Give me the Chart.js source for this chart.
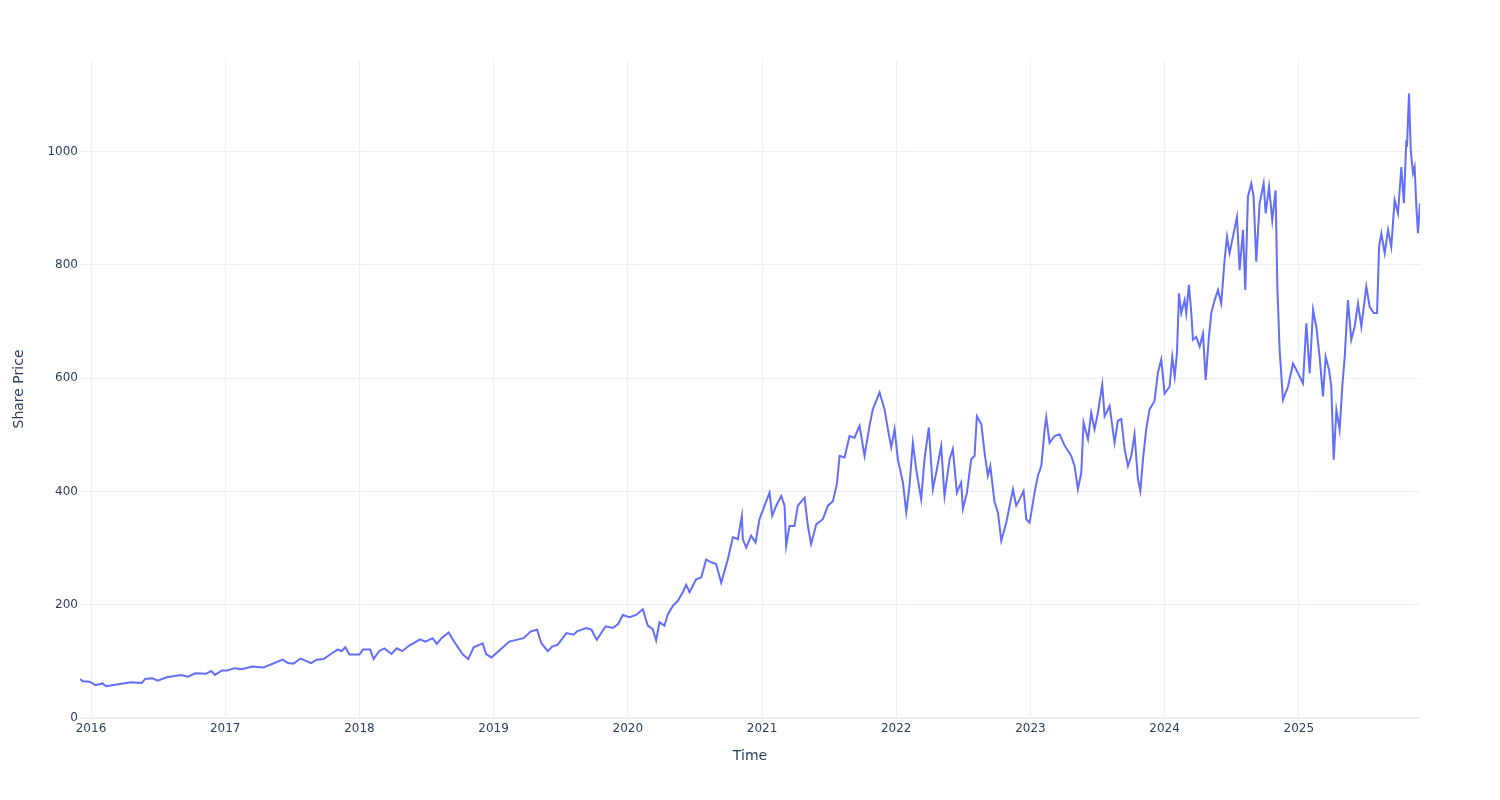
<!DOCTYPE html>
<html>
<head>
<meta charset="utf-8">
<script src="https://cdn.jsdelivr.net/npm/chart.js@4"></script>
<style>
  html, body { margin: 0; padding: 0; background: #fff; }
  #chart { display: block; }
</style>
</head>
<body>
<canvas id="chart" width="1500" height="800"></canvas>
<script>
// 時間（小数年）と株価
const years = [
  2015.918, 2015.939, 2015.992, 2016.032, 2016.085, 2016.112, 2016.191, 2016.298, 2016.378, 2016.404,
  2016.457, 2016.497, 2016.564, 2016.670, 2016.723, 2016.777, 2016.856, 2016.896, 2016.923, 2016.976,
  2017.016, 2017.069, 2017.122, 2017.202, 2017.282, 2017.335, 2017.428, 2017.468, 2017.508, 2017.561,
  2017.641, 2017.681, 2017.734, 2017.787, 2017.840, 2017.867, 2017.894, 2017.926, 2018.000, 2018.027,
  2018.080, 2018.106, 2018.146, 2018.186, 2018.239, 2018.279, 2018.319, 2018.372, 2018.452, 2018.492,
  2018.545, 2018.577, 2018.612, 2018.665, 2018.705, 2018.771, 2018.811, 2018.851, 2018.918, 2018.944,
  2018.984, 2019.051, 2019.117, 2019.170, 2019.223, 2019.277, 2019.324, 2019.356, 2019.404, 2019.436,
  2019.476, 2019.543, 2019.596, 2019.622, 2019.689, 2019.729, 2019.769, 2019.835, 2019.888, 2019.928,
  2019.963, 2020.012, 2020.062, 2020.112, 2020.149, 2020.186, 2020.211, 2020.236, 2020.273, 2020.298,
  2020.335, 2020.373, 2020.410, 2020.435, 2020.460, 2020.509, 2020.547, 2020.584, 2020.621, 2020.658,
  2020.696, 2020.745, 2020.783, 2020.820, 2020.850, 2020.857, 2020.882, 2020.919, 2020.952, 2020.981,
  2021.019, 2021.056, 2021.076, 2021.106, 2021.143, 2021.168, 2021.180, 2021.205, 2021.242, 2021.267,
  2021.317, 2021.342, 2021.366, 2021.404, 2021.453, 2021.491, 2021.528, 2021.558, 2021.578, 2021.615,
  2021.652, 2021.689, 2021.727, 2021.764, 2021.801, 2021.826, 2021.876, 2021.913, 2021.938, 2021.963,
  2021.988, 2022.012, 2022.050, 2022.075, 2022.099, 2022.124, 2022.149, 2022.186, 2022.211, 2022.243,
  2022.273, 2022.298, 2022.335, 2022.360, 2022.398, 2022.422, 2022.452, 2022.484, 2022.497, 2022.527,
  2022.559, 2022.584, 2022.601, 2022.634, 2022.658, 2022.683, 2022.701, 2022.733, 2022.758, 2022.783,
  2022.820, 2022.870, 2022.894, 2022.919, 2022.949, 2022.969, 2022.994, 2023.031, 2023.056, 2023.081,
  2023.106, 2023.118, 2023.143, 2023.180, 2023.217, 2023.255, 2023.304, 2023.329, 2023.354, 2023.379,
  2023.396, 2023.429, 2023.453, 2023.478, 2023.503, 2023.535, 2023.553, 2023.590, 2023.627, 2023.652,
  2023.677, 2023.702, 2023.727, 2023.752, 2023.776, 2023.801, 2023.819, 2023.839, 2023.863, 2023.888,
  2023.925, 2023.950, 2023.975, 2024.000, 2024.037, 2024.057, 2024.075, 2024.092, 2024.107, 2024.124,
  2024.149, 2024.161, 2024.181, 2024.199, 2024.211, 2024.236, 2024.261, 2024.286, 2024.306, 2024.330,
  2024.348, 2024.373, 2024.398, 2024.422, 2024.447, 2024.465, 2024.484, 2024.509, 2024.539, 2024.559,
  2024.584, 2024.601, 2024.621, 2024.646, 2024.663, 2024.683, 2024.708, 2024.738, 2024.753, 2024.778,
  2024.802, 2024.827, 2024.840, 2024.857, 2024.882, 2024.919, 2024.957, 2024.994, 2025.031, 2025.056,
  2025.081, 2025.106, 2025.130, 2025.155, 2025.180, 2025.200, 2025.225, 2025.242, 2025.260, 2025.280,
  2025.304, 2025.324, 2025.342, 2025.366, 2025.391, 2025.416, 2025.441, 2025.466, 2025.503, 2025.528,
  2025.558, 2025.583, 2025.598, 2025.615, 2025.640, 2025.665, 2025.689, 2025.714, 2025.739, 2025.764,
  2025.783, 2025.801, 2025.806, 2025.821, 2025.834, 2025.851, 2025.863, 2025.876, 2025.888, 2025.903
];
const prices = [
  69, 65, 64, 58, 61, 56, 59, 63, 62, 69,
  70, 66, 72, 76, 73, 79, 78, 83, 76, 84,
  84, 88, 86, 91, 89, 94, 103, 97, 96, 105,
  97, 103, 104, 113, 121, 118, 125, 112, 112, 121,
  121, 104, 118, 123, 113, 123, 118, 128, 139, 135,
  141, 131, 141, 151, 135, 112, 104, 125, 132, 113,
  107, 121, 135, 138, 141, 153, 156, 132, 118, 126,
  129, 150, 147, 153, 159, 156, 138, 162, 159, 166,
  182, 178, 182, 192, 163, 157, 137, 169, 163, 183,
  198, 207, 222, 235, 222, 245, 248, 280, 275, 272,
  239, 280, 319, 316, 357, 316, 301, 322, 310, 351,
  375, 398, 357, 375, 392, 375, 304, 339, 339, 375,
  389, 339, 307, 342, 351, 375, 383, 413, 463, 460,
  498, 495, 516, 463, 516, 545, 575, 545, 510, 478,
  510, 457, 416, 363, 410, 486, 439, 386, 457, 513,
  404, 433, 480, 392, 457, 475, 398, 416, 369, 398,
  457, 463, 533, 519, 469, 428, 445, 381, 363, 313,
  345, 404, 375, 386, 401, 351, 345, 398, 428, 445,
  510, 531, 486, 498, 501, 481, 463, 445, 404, 433,
  522, 492, 539, 510, 539, 589, 533, 551, 486, 525,
  528, 475, 445, 463, 501, 422, 401, 457, 510, 545,
  560, 610, 633, 573, 585, 638, 603, 644, 750, 715,
  738, 715, 765, 715, 668, 673, 656, 679, 597, 673,
  715, 738, 756, 732, 809, 850, 821, 850, 885, 791,
  862, 756, 921, 944, 921, 806, 909, 944, 891, 938,
  879, 932, 762, 650, 562, 585, 626, 609, 591, 697,
  609, 721, 691, 638, 568, 638, 615, 585, 456, 544,
  509, 585, 638, 738, 668, 691, 732, 691, 762, 726,
  715, 715, 832, 856, 821, 862, 832, 915, 891, 973,
  909, 1020, 1009, 1103, 1003, 962, 973, 903, 856, 909
];
const xTicks = [2016, 2017, 2018, 2019, 2020, 2021, 2022, 2023, 2024, 2025];
const yTicks = [0, 200, 400, 600, 800, 1000];

const GRID = '#ebf0f8';
const TEXT = '#2a3f5f';
const FONT = "'DejaVu Sans', Verdana, sans-serif";

const points = years.map((t, i) => ({ x: t, y: prices[i] }));

new Chart(document.getElementById('chart'), {
  type: 'line',
  data: {
    datasets: [{
      data: points,
      borderColor: '#636efa',
      borderWidth: 2,
      pointRadius: 0,
      fill: false,
      tension: 0,
    }]
  },
  options: {
    responsive: false,
    animation: false,
    layout: { padding: { top: 60, right: 80, left: 0, bottom: 0 } },
    plugins: {
      legend: { display: false },
      tooltip: { enabled: false },
    },
    scales: {
      x: {
        type: 'linear',
        min: years[0],
        max: years[years.length - 1],
        afterFit: (s) => { s.height = 82; },
        afterBuildTicks: (s) => { s.ticks = xTicks.map(v => ({ value: v })); },
        grid: { color: GRID, lineWidth: 1, drawTicks: false },
        border: { display: false },
        ticks: {
          padding: 4,
          maxRotation: 0,
          autoSkip: false,
          color: TEXT,
          font: { family: FONT, size: 12 },
          callback: (v) => String(v),
        },
        title: {
          display: true,
          text: 'Time',
          color: TEXT,
          font: { family: FONT, size: 14 },
          padding: { top: 0, bottom: 35 },
        },
      },
      y: {
        min: 0,
        max: 1162,
        afterFit: (s) => { s.width = 80; },
        afterBuildTicks: (s) => { s.ticks = yTicks.map(v => ({ value: v })); },
        grid: {
          color: GRID,
          lineWidth: (c) => (c.tick && c.tick.value === 0 ? 2 : 1),
          drawTicks: false,
        },
        border: { display: false },
        ticks: {
          padding: 2,
          color: TEXT,
          font: { family: FONT, size: 12 },
          callback: (v) => String(v),
        },
        title: {
          display: true,
          text: 'Share Price',
          color: TEXT,
          font: { family: FONT, size: 14 },
          padding: { top: 11, bottom: 0 },
        },
      },
    },
  },
});
</script>
</body>
</html>
